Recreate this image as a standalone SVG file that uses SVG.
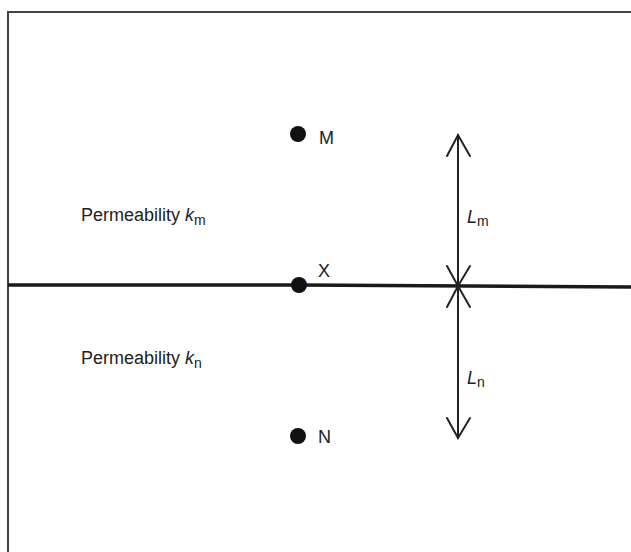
<svg xmlns="http://www.w3.org/2000/svg" width="631" height="552" viewBox="0 0 631 552">
<style>
text{font-family:"Liberation Sans",Arial,sans-serif;font-size:18px;fill:#222}
.sub{font-size:14px}
.it{font-style:italic}
.dot{fill:#111}
.ln{stroke:#222;fill:none;stroke-linecap:round}
</style>
<rect width="631" height="552" fill="#fff"/>
<g id="frame">
<path d="M8,552 V12 H631" stroke="#444" stroke-width="2" fill="none"/>
</g>
<g id="interface">
<path d="M8,285 L300,285 L631,287" stroke="#1a1a1a" stroke-width="3.5" fill="none"/>
</g>
<g id="labels">
<text x="81" y="221">Permeability <tspan class="it">k</tspan><tspan class="sub" dy="4">m</tspan></text>
<text x="81" y="364">Permeability <tspan class="it">k</tspan><tspan class="sub" dy="4">n</tspan></text>
</g>
<g id="M"><circle class="dot" cx="298" cy="134" r="8"/><text x="319" y="144">M</text></g>
<g id="X"><circle class="dot" cx="299" cy="285" r="8"/><text x="318" y="277">X</text></g>
<g id="N"><circle class="dot" cx="298" cy="436" r="8"/><text x="318" y="443">N</text></g>
<g id="connectors">
<g class="ln" stroke-width="2">
<path d="M458,135 V438"/>
<path d="M447,156 L458,135 L470,156"/>
<path d="M447,266 L458,286 L470,266"/>
<path d="M447,307 L458,286 L470,307"/>
<path d="M447,418 L458,438 L470,418"/>
</g>
<text x="467" y="223" class="it">L<tspan class="sub" style="font-style:normal" dy="3">m</tspan></text>
<text x="467" y="384" class="it">L<tspan class="sub" style="font-style:normal" dy="3">n</tspan></text>
</g>
</svg>
